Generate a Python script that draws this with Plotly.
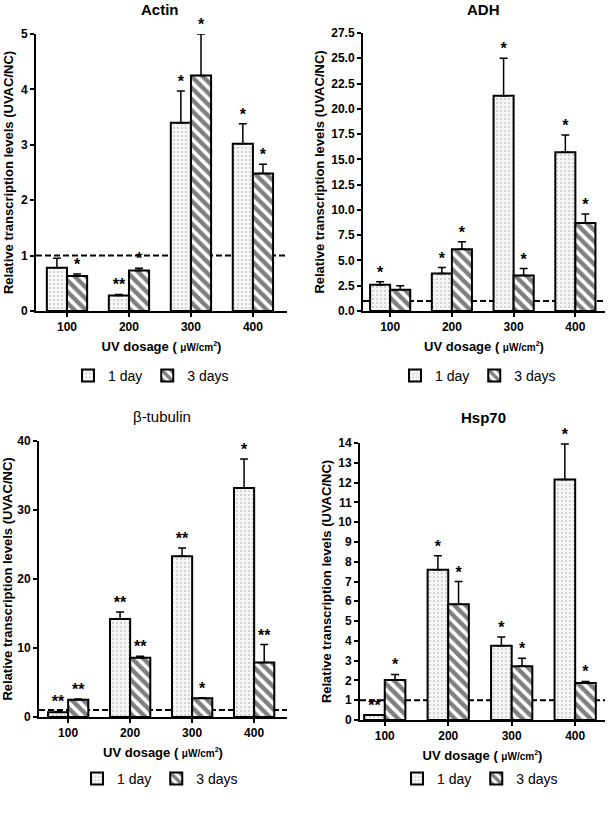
import plotly.graph_objects as go

# ---- data ----
doses = ["100", "200", "300", "400"]
series_names = ["1 day", "3 days"]

actin_1d = [0.78, 0.28, 3.40, 3.02]
actin_1d_err = [0.17, 0.02, 0.57, 0.36]
actin_3d = [0.63, 0.73, 4.25, 2.48]
actin_3d_err = [0.04, 0.04, 0.75, 0.17]
actin_1d_sig = ["", "**", "*", "*"]
actin_3d_sig = ["*", "*", "*", "*"]

adh_1d = [2.6, 3.7, 21.3, 15.7]
adh_1d_err = [0.3, 0.6, 3.7, 1.7]
adh_3d = [2.1, 6.1, 3.5, 8.7]
adh_3d_err = [0.4, 0.75, 0.7, 0.9]
adh_1d_sig = ["*", "*", "*", "*"]
adh_3d_sig = ["", "*", "*", "*"]

tub_1d = [0.7, 14.2, 23.3, 33.2]
tub_1d_err = [0.1, 1.0, 1.2, 4.2]
tub_3d = [2.5, 8.6, 2.7, 7.9]
tub_3d_err = [0.1, 0.2, 0.1, 2.6]
tub_1d_sig = ["**", "**", "**", "*"]
tub_3d_sig = ["**", "**", "*", "**"]

hsp_1d = [0.25, 7.6, 3.75, 12.15]
hsp_1d_err = [0.02, 0.7, 0.45, 1.8]
hsp_3d = [2.02, 5.85, 2.72, 1.87]
hsp_3d_err = [0.28, 1.15, 0.4, 0.08]
hsp_1d_sig = ["**", "*", "*", "*"]
hsp_3d_sig = ["*", "*", "*", "*"]

W, H = 609, 816
FONT = "Arial, Liberation Sans, sans-serif"


def px_x(p):
    return p / W


def px_y(p):
    return 1 - p / H


panels = [
    dict(title="<b>Actin</b>", d1=actin_1d, e1=actin_1d_err, d3=actin_3d, e3=actin_3d_err,
         s1=actin_1d_sig, s3=actin_3d_sig, yr=[0, 5], dtick=1, fmt="d",
         xd=[36, 287], yd=[34, 311], xr=[-0.5, 3.55], tx=160, ty=10, lx=151, ly=376),
    dict(title="<b>ADH</b>", d1=adh_1d, e1=adh_1d_err, d3=adh_3d, e3=adh_3d_err,
         s1=adh_1d_sig, s3=adh_3d_sig, yr=[0, 27.5], dtick=2.5, fmt=".1f",
         xd=[363, 605], yd=[33, 311], xr=[-0.44, 3.48], tx=483, ty=10, lx=478, ly=376),
    dict(title="β-tubulin", d1=tub_1d, e1=tub_1d_err, d3=tub_3d, e3=tub_3d_err,
         s1=tub_1d_sig, s3=tub_3d_sig, yr=[0, 40], dtick=10, fmt="d",
         xd=[39, 287], yd=[441, 717], xr=[-0.47, 3.53], tx=162, ty=416, lx=160, ly=779),
    dict(title="<b>Hsp70</b>", d1=hsp_1d, e1=hsp_1d_err, d3=hsp_3d, e3=hsp_3d_err,
         s1=hsp_1d_sig, s3=hsp_3d_sig, yr=[0, 14], dtick=1, fmt="d",
         xd=[360, 605], yd=[443, 720], xr=[-0.39, 3.47], tx=483, ty=418, lx=480, ly=779),
]

fig = go.Figure()
xpos = list(range(len(doses)))
half = 0.1625

layout_upd = {}
annotations = []
shapes = []

for i, p in enumerate(panels):
    n = "" if i == 0 else str(i + 1)
    xa, ya = "x" + n, "y" + n
    leg = "legend" + n

    for k, (vals, errs, sigs) in enumerate([(p["d1"], p["e1"], p["s1"]),
                                            (p["d3"], p["e3"], p["s3"])]):
        if k == 0:
            pattern = dict(shape=".", fgcolor="#9a9a9a", bgcolor="#f6f6f6", size=4, solidity=0.2)
        else:
            pattern = dict(shape="\\", fgcolor="black", bgcolor="white", size=8, solidity=0.55)
        fig.add_trace(go.Bar(
            x=xpos, y=vals, name=series_names[k], xaxis=xa, yaxis=ya, legend=leg,
            offsetgroup=str(k),
            marker=dict(color="white", line=dict(color="black", width=2), pattern=pattern),
            error_y=dict(type="data", array=errs, arrayminus=[0] * len(errs), symmetric=False,
                         color="black", thickness=1.5, width=4),
        ))
        off = -half if k == 0 else half
        fig.add_trace(go.Scatter(
            x=[xv + off for xv in xpos], y=[v + e for v, e in zip(vals, errs)],
            text=["<b>%s</b>" % s if s else "" for s in sigs], mode="text",
            textposition="top center", xaxis=xa, yaxis=ya,
            textfont=dict(family=FONT, size=16, color="black"), showlegend=False,
            hoverinfo="skip", cliponaxis=False,
        ))

    axis_common = dict(showline=True, linecolor="black", linewidth=2, ticks="outside",
                       ticklen=4, tickwidth=1.5, tickcolor="black", showgrid=False,
                       zeroline=False, automargin=False,
                       tickfont=dict(family=FONT, size=12, color="black"))
    layout_upd["xaxis" + n] = dict(
        axis_common, domain=[px_x(p["xd"][0]), px_x(p["xd"][1])], range=p["xr"],
        tickvals=xpos, ticktext=["<b>%s</b>" % d for d in doses], anchor=ya,
        title=dict(text="<b>UV dosage ( <span style='font-size:10px'>μW/cm<sup>2</sup></span>)</b>",
                   font=dict(family=FONT, size=13, color="black"), standoff=8),
    )
    layout_upd["yaxis" + n] = dict(
        axis_common, domain=[px_y(p["yd"][1]), px_y(p["yd"][0])], range=p["yr"],
        dtick=p["dtick"], tick0=0, tickformat=p["fmt"], anchor=xa,
        tickprefix="<b>", ticksuffix="</b>",
        title=dict(text="<b>Relative transcription levels (UVAC/NC)</b>",
                   font=dict(family=FONT, size=13, color="black"), standoff=4),
    )
    layout_upd[leg] = dict(
        orientation="h", x=px_x(p["lx"]), y=px_y(p["ly"]), xanchor="center", yanchor="middle",
        font=dict(family=FONT, size=14, color="black"), bgcolor="rgba(0,0,0,0)",
        itemwidth=30, tracegroupgap=0,
    )
    annotations.append(dict(
        text=p["title"], x=px_x(p["tx"]), y=px_y(p["ty"]), xref="paper", yref="paper",
        xanchor="center", yanchor="middle", showarrow=False,
        font=dict(family=FONT, size=15, color="black"),
    ))
    shapes.append(dict(
        type="line", xref=xa + " domain", yref=ya, x0=0, x1=1, y0=1, y1=1,
        line=dict(color="black", width=2, dash="6px,3px"), layer="below",
    ))

fig.update_layout(
    width=W, height=H, margin=dict(l=0, r=0, t=0, b=0, autoexpand=False),
    plot_bgcolor="white", paper_bgcolor="white",
    barmode="group", bargap=0.35, bargroupgap=0,
    annotations=annotations, shapes=shapes,
    font=dict(family=FONT, color="black"),
    **layout_upd,
)

fig.write_html("out.html", config={"displayModeBar": False},
               post_script="document.body.style.margin='0';")
